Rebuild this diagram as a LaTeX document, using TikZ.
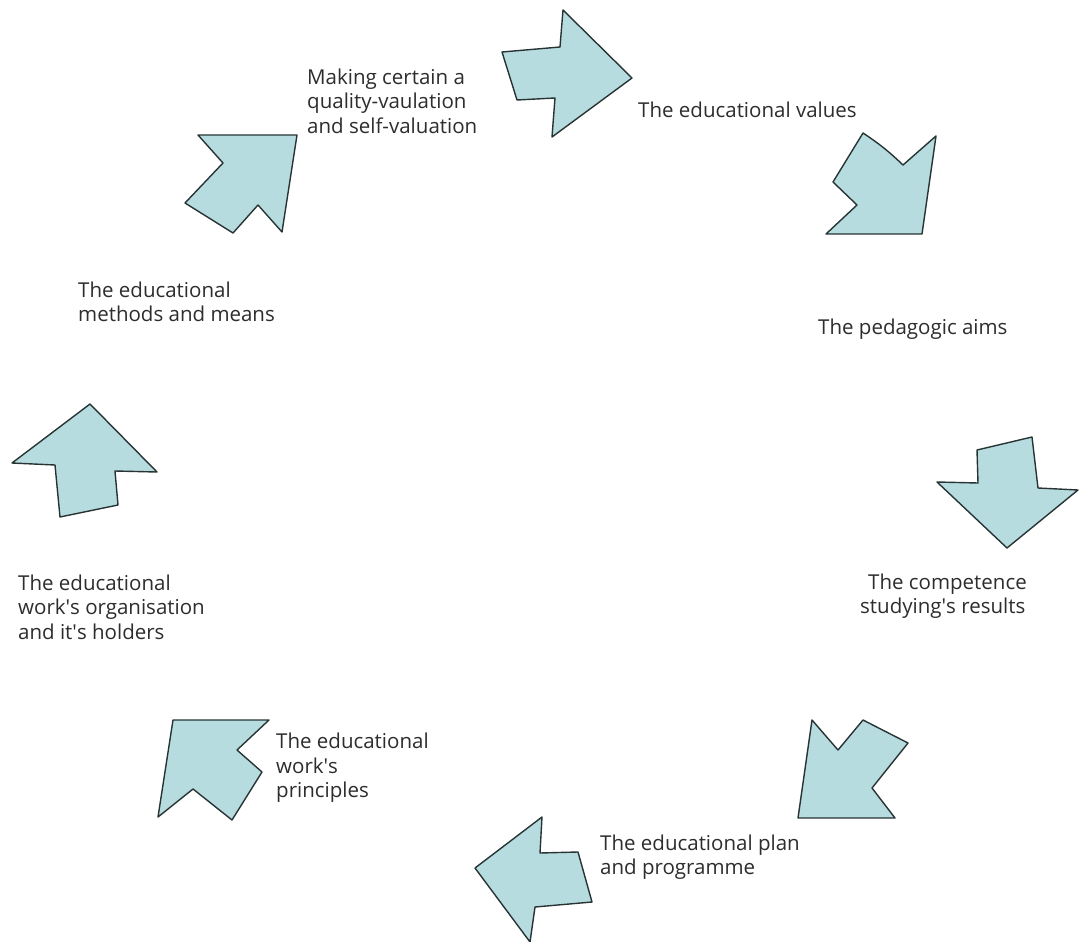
\documentclass[tikz,border=0pt]{standalone}
\usepackage{fontspec}
\setmainfont{Open Sans}
\usepackage{xcolor}
\usepackage{tikz}

\definecolor{arrowfill}{RGB}{183,220,224}
\definecolor{arrowline}{RGB}{40,52,52}
\definecolor{labeltext}{RGB}{45,45,45}

\tikzset{
  bigarrow/.style={fill=arrowfill, draw=arrowline, line width=1.4pt, line join=round},
  steplabel/.style={anchor=west, align=left, inner sep=0pt, text=labeltext,
    font=\fontsize{20.5}{24.5}\selectfont}
}

\begin{document}
\begin{tikzpicture}[x=1pt, y=-1pt]
    \useasboundingbox[fill=white] (0,0) rectangle (1079,942);

    % Arrows
    \draw[bigarrow] (502,52) -- (560,47) -- (563,10) -- (632,78) -- (552,137) -- (555,98) -- (517,100) -- cycle;
    \draw[bigarrow] (863,133) to[bend left=5] (903,165) -- (936,136) -- (922,234) -- (826,234) -- (857,205) -- (833,182) -- cycle;
    \draw[bigarrow] (977,450) -- (1032,437) -- (1038,488) -- (1078,490) -- (1007,548) -- (937,482) -- (978,483) -- cycle;
    \draw[bigarrow] (812,720) -- (838,750) -- (863,720) -- (908,743) -- (872,788) -- (895,818) -- (798,818) -- cycle;
    \draw[bigarrow] (542,817) -- (540,853) -- (578,852) -- (592,902) -- (535,907) -- (530,942) -- (475,868) -- cycle;
    \draw[bigarrow] (173,720) -- (269,720) -- (237,750) -- (262,772) -- (232,820) -- (193,789) -- (158,817) -- cycle;
    \draw[bigarrow] (90,404) -- (157,472) -- (115,471) -- (118,505) -- (60,517) -- (55,465) -- (12,463) -- cycle;
    \draw[bigarrow] (198,135) -- (297,135) -- (282,232) -- (258,205) -- (233,233) -- (185,203) -- (223,163) -- cycle;

    % Labels
    \node[steplabel] (quality) at (307,101) {Making certain a\\quality-vaulation\\and self-valuation};
    \node[steplabel] (values) at (638,110) {The educational values};
    \node[steplabel] (aims) at (818,329) {The pedagogic aims};
    \node[steplabel] (results) at (860,596) {\hspace{8pt}The competence\\studying\textquotesingle s results};
    \node[steplabel] (plan) at (600,857) {The educational plan\\and programme};
    \node[steplabel] (principles) at (276,768) {The educational\\work\textquotesingle s\\principles};
    \node[steplabel] (organisation) at (18,607) {The educational\\work\textquotesingle s organisation\\and it\textquotesingle s holders};
    \node[steplabel] (methods) at (78,302) {The educational\\methods and means};
\end{tikzpicture}
\end{document}
